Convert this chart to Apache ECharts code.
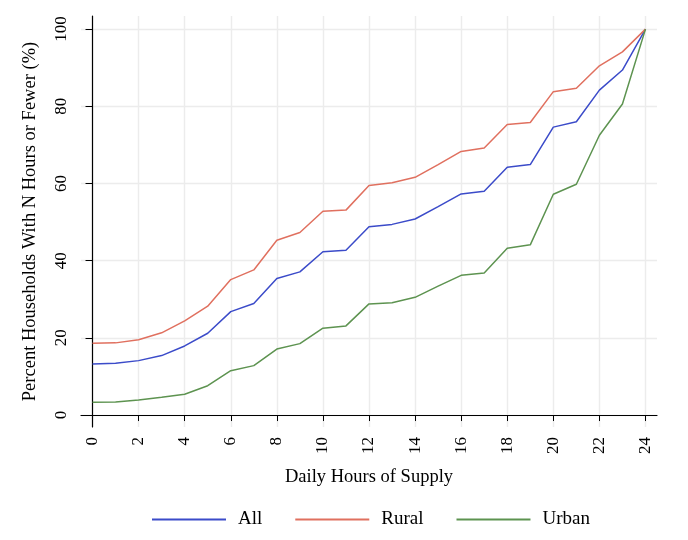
<!DOCTYPE html>
<html>
<head>
    <meta charset="UTF-8">
    <title>Daily Hours of Supply</title>
    <script type="text/javascript" src="https://cdn.jsdelivr.net/npm/echarts@6/dist/echarts.min.js"></script>
</head>
<style type="text/css">
html, body { margin: 0; padding: 0; background: #fff; }
#chart { width: 688px; height: 540px; }
</style>
<body>
    <div id="chart"></div>
</body>
</html>

<script type="text/javascript">
        // hours 0..24
        var hours = [0,1,2,3,4,5,6,7,8,9,10,11,12,13,14,15,16,17,18,19,20,21,22,23,24];
        var tickHours = [0,2,4,6,8,10,12,14,16,18,20,22,24];
        var tickPct = [0,20,40,60,80,100];

        var allData   = [13.2,13.4,14.1,15.4,17.9,21.2,26.8,28.9,35.4,37.1,42.3,42.7,48.8,49.4,50.8,54.0,57.3,58.0,64.2,64.9,74.6,76.0,84.2,89.4,100];
        var ruralData = [18.6,18.7,19.5,21.3,24.4,28.2,35.1,37.6,45.3,47.3,52.8,53.1,59.5,60.2,61.6,64.9,68.3,69.2,75.3,75.8,83.8,84.7,90.5,94.1,100];
        var urbanData = [3.3,3.4,3.9,4.6,5.4,7.6,11.5,12.8,17.1,18.5,22.5,23.1,28.8,29.1,30.5,33.4,36.2,36.8,43.2,44.1,57.2,59.8,72.5,80.6,100];

        function pairs(vals) {
            return hours.map(function (h, i) { return [h, vals[i]]; });
        }

        var font = 'Liberation Serif';
        var myChart = echarts.init(document.getElementById('chart'));

        var option = {
            animation: false,
            textStyle: { fontFamily: font, color: '#000' },
            grid: { left: 81, right: 31, top: 16, bottom: 113 },
            legend: {
                bottom: 6,
                left: 147,
                icon: 'rect',
                itemWidth: 74,
                itemHeight: 2,
                itemGap: 33,
                textStyle: { fontFamily: font, fontSize: 19, color: '#000', padding: [0, 0, 0, 7] },
                data: ['All', 'Rural', 'Urban']
            },
            xAxis: {
                type: 'value',
                min: -0.5,
                max: 24.5,
                name: 'Daily Hours of Supply',
                nameLocation: 'middle',
                nameGap: 41,
                nameTextStyle: { fontFamily: font, fontSize: 18.5, color: '#000' },
                axisLine: { lineStyle: { color: '#000', width: 1.2 } },
                axisTick: { length: 6, lineStyle: { color: '#000' }, customValues: tickHours },
                axisLabel: { rotate: 90, margin: 10, fontSize: 17, color: '#000', customValues: tickHours },
                splitLine: { show: true, lineStyle: { color: '#ececec', width: 1.4 } }
            },
            yAxis: {
                type: 'value',
                min: -3.1,
                max: 103.4,
                name: 'Percent Households With N Hours or Fewer (%)',
                nameLocation: 'middle',
                nameRotate: 90,
                nameGap: 41,
                nameTextStyle: { fontFamily: font, fontSize: 18.5, color: '#000' },
                axisLine: { show: true, lineStyle: { color: '#000', width: 1.2 } },
                axisTick: { show: true, length: 7, lineStyle: { color: '#000' }, customValues: tickPct },
                axisLabel: { rotate: 90, margin: 11, fontSize: 17, color: '#000', customValues: tickPct },
                splitLine: { show: true, lineStyle: { color: '#ececec', width: 1.4 } }
            },
            series: [{
                name: 'All',
                type: 'line',
                symbol: 'none',
                data: pairs(allData),
                itemStyle: { color: '#3b4bc9' },
                lineStyle: { color: '#3b4bc9', width: 1.5 }
            }, {
                name: 'Rural',
                type: 'line',
                symbol: 'none',
                data: pairs(ruralData),
                itemStyle: { color: '#e0705f' },
                lineStyle: { color: '#e0705f', width: 1.5 }
            }, {
                name: 'Urban',
                type: 'line',
                symbol: 'none',
                data: pairs(urbanData),
                itemStyle: { color: '#5d9350' },
                lineStyle: { color: '#5d9350', width: 1.5 }
            }]
        };

        myChart.setOption(option);
</script>
